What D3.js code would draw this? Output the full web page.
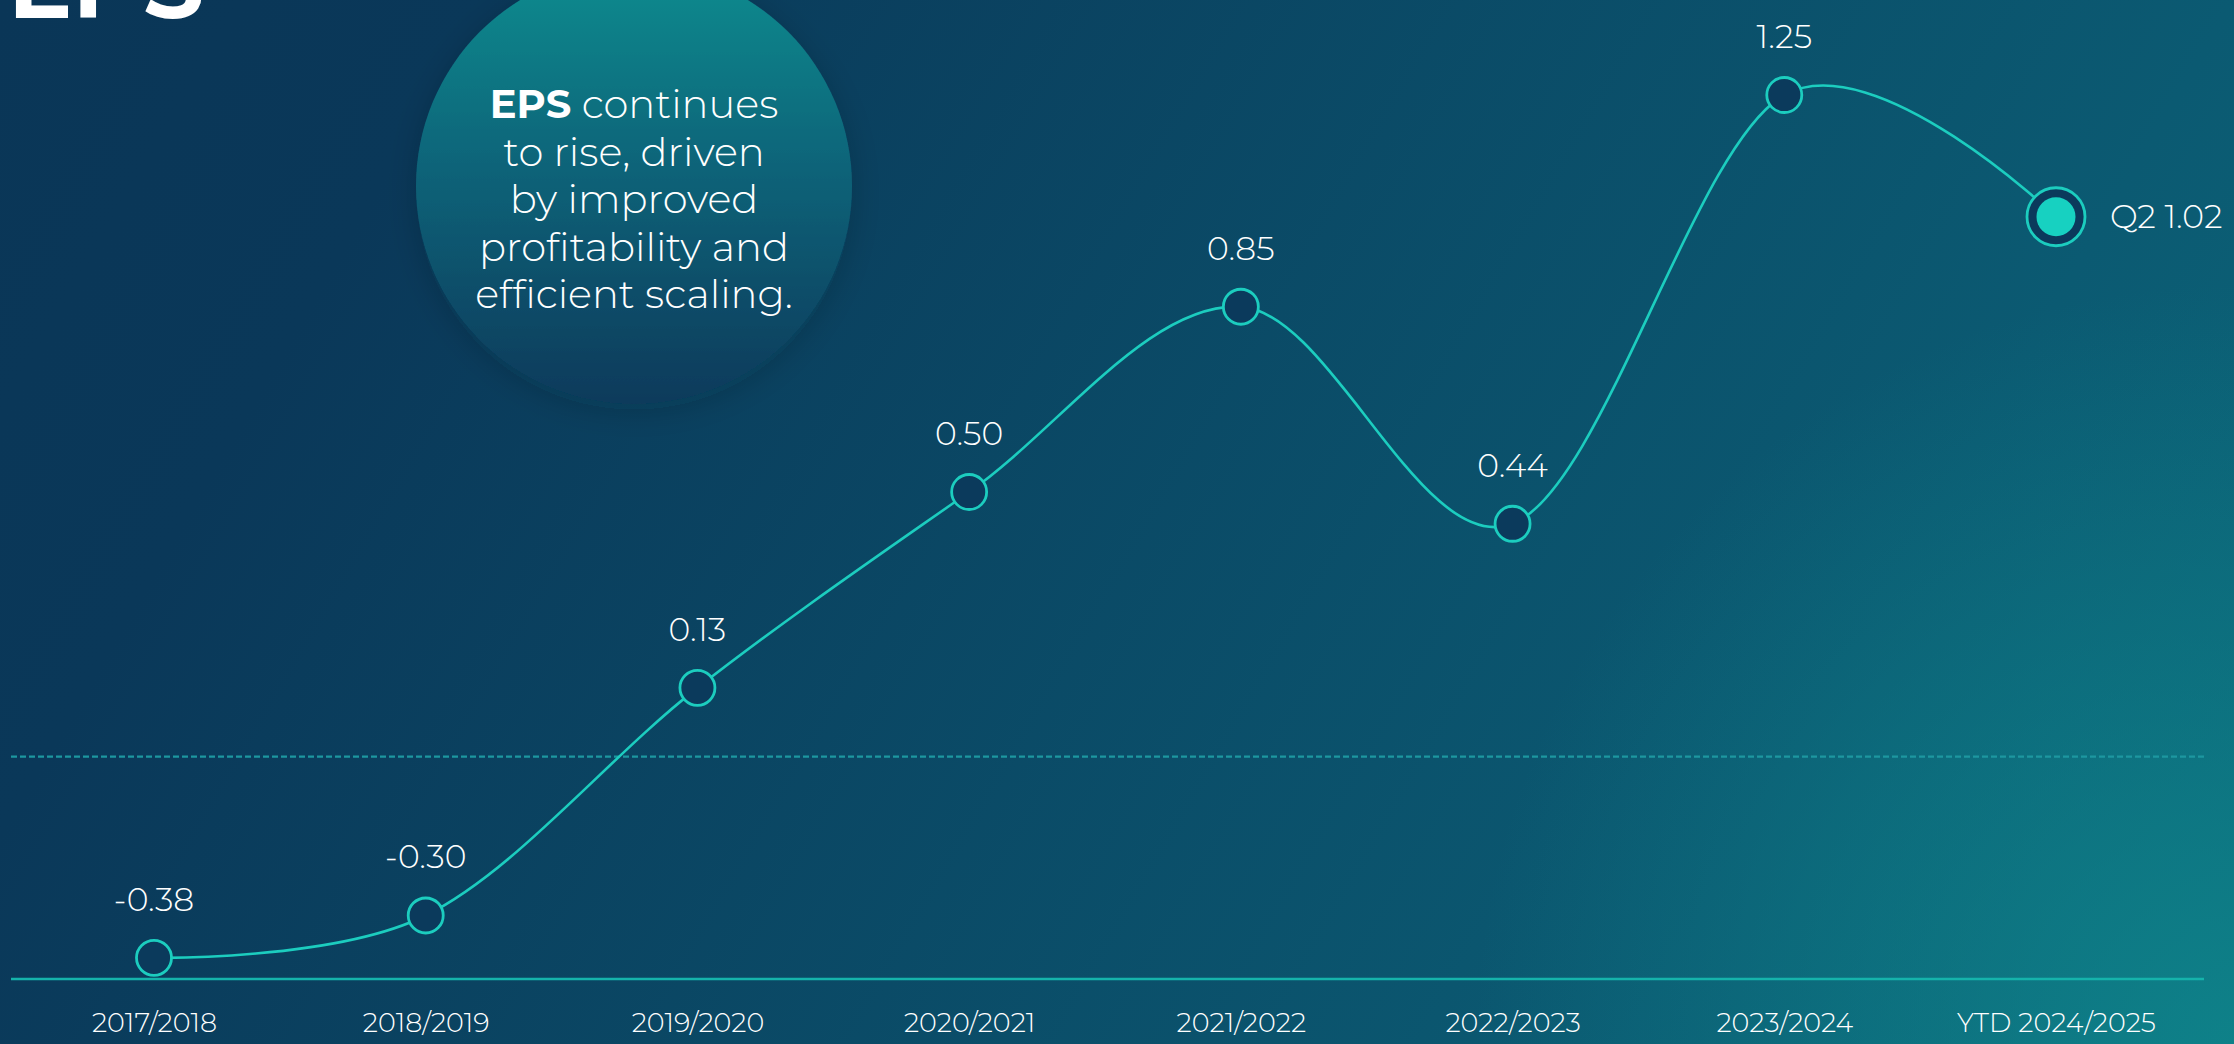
<!DOCTYPE html>
<html>
<head>
<meta charset="utf-8">
<script src="https://cdn.jsdelivr.net/npm/d3@7"></script>
<style>
  html, body { margin: 0; padding: 0; background: #0a3758; overflow: hidden; }
  svg { display: block; }
  text { font-family: Montserrat, Lato, sans-serif; fill: #fff; }
</style>
</head>
<body>
<svg id="chart"></svg>
<script>
const width = 2234;
const height = 1044;

// data
const categories = ['2017/2018', '2018/2019', '2019/2020', '2020/2021', '2021/2022', '2022/2023', '2023/2024', 'YTD 2024/2025'];
const eps = [-0.38, -0.30, 0.13, 0.50, 0.85, 0.44, 1.25, 1.02];
const valueLabels = ['-0.38', '-0.30', '0.13', '0.50', '0.85', '0.44', '1.25', 'Q2 1.02'];
const yDomain = [-0.42, 1.25];
const noteLines = [['EPS', ' continues'], ['', 'to rise, driven'], ['', 'by improved'], ['', 'profitability and'], ['', 'efficient scaling.']];

const teal = '#1ccdbf';
const navy = '#0b3a5c';

const svg = d3.select('#chart')
  .attr('width', width)
  .attr('height', height);

const defs = svg.append('defs');

const bg = defs.append('linearGradient')
  .attr('id', 'bg')
  .attr('gradientUnits', 'userSpaceOnUse')
  .attr('x1', 0).attr('y1', 0)
  .attr('x2', 3030).attr('y2', 1768);
bg.append('stop').attr('offset', 0).attr('stop-color', '#0a3657');
bg.append('stop').attr('offset', 0.12).attr('stop-color', '#0a3859');
bg.append('stop').attr('offset', 0.55).attr('stop-color', '#0b5a72');
bg.append('stop').attr('offset', 1).attr('stop-color', '#0e7e88');

const glow = defs.append('radialGradient')
  .attr('id', 'glow')
  .attr('gradientUnits', 'userSpaceOnUse')
  .attr('cx', width).attr('cy', height)
  .attr('r', 760);
glow.append('stop').attr('offset', 0).attr('stop-color', '#0f8a8e').attr('stop-opacity', 0.75);
glow.append('stop').attr('offset', 1).attr('stop-color', '#0f8a8e').attr('stop-opacity', 0);

const bubbleFill = defs.append('linearGradient')
  .attr('id', 'bubble')
  .attr('x1', 0).attr('y1', 0)
  .attr('x2', 0).attr('y2', 1);
bubbleFill.append('stop').attr('offset', 0).attr('stop-color', '#118c8f');
bubbleFill.append('stop').attr('offset', 0.45).attr('stop-color', '#0d6479');
bubbleFill.append('stop').attr('offset', 1).attr('stop-color', '#0a3a5b');

const shadow = defs.append('filter')
  .attr('id', 'shadow')
  .attr('x', '-20%').attr('y', '-20%')
  .attr('width', '140%').attr('height', '140%');
shadow.append('feDropShadow')
  .attr('dx', 0).attr('dy', 6)
  .attr('stdDeviation', 16)
  .attr('flood-color', '#021a2c')
  .attr('flood-opacity', 0.18);

svg.append('rect').attr('width', width).attr('height', height).attr('fill', 'url(#bg)');
svg.append('rect').attr('width', width).attr('height', height).attr('fill', 'url(#glow)');

// title, cut by the top edge
svg.append('text')
  .attr('x', 8)
  .attr('y', 18)
  .attr('font-size', 96)
  .attr('font-weight', 700)
  .text('EPS');

// note bubble
const note = svg.append('g').attr('transform', 'translate(634,186)');
note.append('circle')
  .attr('r', 218)
  .attr('fill', 'url(#bubble)')
  .attr('filter', 'url(#shadow)');

const noteText = note.append('text')
  .attr('text-anchor', 'middle')
  .attr('font-size', 40)
  .attr('font-weight', 300);
noteLines.forEach(([bold, rest], i) => {
  const line = noteText.append('tspan')
    .attr('x', 0)
    .attr('y', -68 + i * 47.5);
  if (bold) line.append('tspan').attr('font-weight', 700).text(bold);
  line.append('tspan').text(rest);
});

// scales
const x = d3.scalePoint()
  .domain(categories)
  .range([154, 2056]);

const y = d3.scaleLinear()
  .domain(yDomain)
  .range([979, 95]);

const data = categories.map((c, i) => ({category: c, value: eps[i], label: valueLabels[i]}));

// zero line
svg.append('line')
  .attr('x1', 11).attr('x2', 2204)
  .attr('y1', y(0)).attr('y2', y(0))
  .attr('stroke', '#1d97a0')
  .attr('stroke-width', 2.2)
  .attr('stroke-dasharray', '6 3');

// baseline
svg.append('line')
  .attr('x1', 11).attr('x2', 2204)
  .attr('y1', y(yDomain[0])).attr('y2', y(yDomain[0]))
  .attr('stroke', '#15b3ab')
  .attr('stroke-width', 2.5);

// x axis labels
const xAxis = svg.append('g')
  .attr('transform', `translate(0,${y(yDomain[0])})`)
  .call(d3.axisBottom(x).tickSize(0).tickPadding(0));
xAxis.select('.domain').remove();
xAxis.selectAll('text')
  .attr('dy', null)
  .attr('y', 53)
  .attr('font-size', 27)
  .attr('font-weight', 300)
  .attr('fill', '#fff');

// line
const line = d3.line()
  .x(d => x(d.category))
  .y(d => y(d.value))
  .curve(d3.curveCatmullRom.alpha(0));

svg.append('path')
  .datum(data)
  .attr('d', line)
  .attr('fill', 'none')
  .attr('stroke', teal)
  .attr('stroke-width', 2.6);

// points
const last = data.length - 1;
const points = svg.selectAll('.point')
  .data(data)
  .join('g')
  .attr('class', 'point')
  .attr('transform', d => `translate(${x(d.category)},${y(d.value)})`);

points.append('circle')
  .attr('r', (d, i) => i === last ? 29 : 17.5)
  .attr('fill', navy)
  .attr('stroke', teal)
  .attr('stroke-width', 2.8);

points.filter((d, i) => i === last)
  .append('circle')
  .attr('r', 19.5)
  .attr('fill', '#17d1c1');

points.append('text')
  .attr('text-anchor', (d, i) => i === last ? 'start' : 'middle')
  .attr('x', (d, i) => i === last ? 54 : 0)
  .attr('y', (d, i) => i === last ? 11 : -47)
  .attr('font-size', 33)
  .attr('font-weight', 300)
  .text(d => d.label);
</script>
</body>
</html>
